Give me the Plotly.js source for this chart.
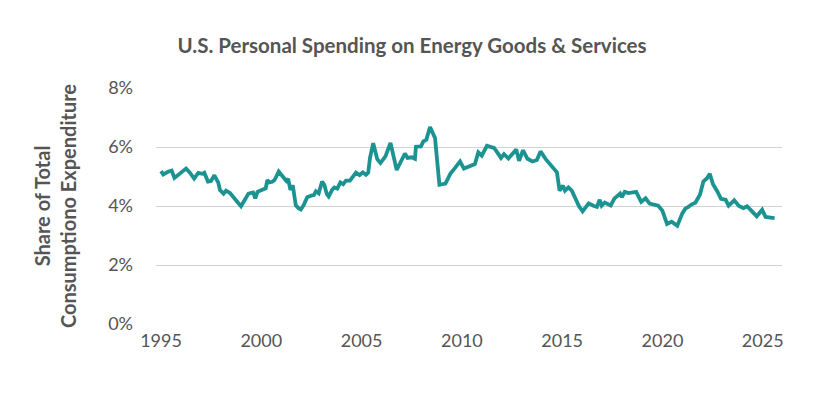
<!DOCTYPE html>
<html>
<head>
<meta charset="utf-8">
<script src="https://cdn.plot.ly/plotly-3.0.1.min.js"></script>
<style>html,body{margin:0;padding:0;background:#fff;}#chart{width:824px;height:399px;}</style>
</head>
<body>
<div id="chart"></div>
<script>
// Decimal year of each observation
const years = [
  1995.00,1995.11,1995.35,1995.53,1995.67,1995.86,1996.25,1996.45,1996.65,1996.86,
  1997.06,1997.16,1997.24,1997.34,1997.49,1997.66,1997.86,1997.94,1998.12,1998.24,
  1998.44,1998.69,1998.85,1998.99,1999.16,1999.36,1999.59,1999.70,1999.81,2000.02,
  2000.22,2000.30,2000.40,2000.55,2000.66,2000.87,2001.08,2001.25,2001.34,2001.45,
  2001.57,2001.67,2001.72,2001.87,2001.97,2002.12,2002.29,2002.49,2002.62,2002.72,
  2002.86,2003.03,2003.14,2003.27,2003.36,2003.53,2003.64,2003.79,2003.94,2004.08,
  2004.22,2004.42,2004.60,2004.72,2004.90,2005.06,2005.22,2005.33,2005.42,2005.58,
  2005.78,2005.94,2006.19,2006.44,2006.75,2007.16,2007.29,2007.50,2007.66,2007.71,
  2007.96,2008.08,2008.23,2008.41,2008.66,2008.88,2009.18,2009.43,2009.66,2009.91,
  2010.10,2010.40,2010.65,2010.82,2010.99,2011.25,2011.60,2011.73,2011.95,2012.10,
  2012.32,2012.56,2012.71,2012.85,2013.05,2013.27,2013.52,2013.74,2013.92,2014.19,
  2014.48,2014.74,2014.87,2015.04,2015.14,2015.31,2015.48,2015.69,2015.84,2016.02,
  2016.32,2016.56,2016.73,2016.87,2016.97,2017.12,2017.29,2017.42,2017.60,2017.79,
  2017.89,2017.98,2018.12,2018.31,2018.49,2018.69,2018.94,2019.16,2019.36,2019.60,
  2019.79,2019.99,2020.11,2020.23,2020.46,2020.74,2020.99,2021.14,2021.29,2021.44,
  2021.64,2021.87,2022.04,2022.22,2022.36,2022.52,2022.73,2022.92,2023.15,2023.30,
  2023.58,2023.81,2024.04,2024.22,2024.42,2024.70,2024.97,2025.14,2025.39,2025.59
];
// Energy goods & services as % of total personal consumption expenditure
const sharePct = [
  5.18,5.07,5.16,5.20,4.95,5.06,5.27,5.12,4.93,5.12,
  5.09,5.13,4.98,4.83,4.85,5.04,4.78,4.54,4.42,4.52,
  4.44,4.26,4.10,3.99,4.22,4.42,4.46,4.26,4.48,4.53,
  4.60,4.88,4.80,4.82,4.88,5.17,4.97,4.85,4.92,4.55,
  4.70,4.33,4.02,3.92,3.88,4.04,4.30,4.35,4.37,4.50,
  4.43,4.83,4.72,4.40,4.32,4.55,4.63,4.59,4.80,4.74,
  4.86,4.86,5.00,5.13,5.05,5.14,5.06,5.13,5.63,6.13,
  5.59,5.46,5.68,6.14,5.22,5.78,5.63,5.65,5.60,6.01,
  6.02,6.19,6.25,6.68,6.31,4.72,4.76,5.10,5.29,5.51,
  5.27,5.34,5.42,5.82,5.71,6.04,5.97,5.85,5.63,5.76,
  5.61,5.80,5.92,5.53,5.89,5.60,5.51,5.56,5.85,5.58,
  5.34,5.14,4.52,4.69,4.52,4.63,4.52,4.21,3.99,3.82,
  4.09,4.01,3.97,4.21,4.01,4.12,4.08,4.02,4.25,4.34,
  4.42,4.30,4.48,4.44,4.46,4.48,4.14,4.26,4.08,4.04,
  4.01,3.85,3.65,3.39,3.47,3.33,3.75,3.91,3.97,4.05,
  4.11,4.38,4.83,4.94,5.09,4.74,4.50,4.24,4.21,4.01,
  4.19,4.00,3.93,3.99,3.85,3.65,3.87,3.63,3.61,3.59
];
const xTicks = [1995, 2000, 2005, 2010, 2015, 2020, 2025];
const xTickLabels = ["1995", "2000", "2005", "2010", "2015", "2020", "2025"];
const yTicks = [0, 2, 4, 6, 8];
const yTickLabels = ["0%", "2%", "4%", "6%", "8%"];

const textColor = "#555555";
const trace = {
  x: years,
  y: sharePct,
  type: "scatter",
  mode: "lines",
  line: {color: "#1b9491", width: 3.8},
  hoverinfo: "skip"
};
const layout = {
  width: 824, height: 399,
  paper_bgcolor: "#ffffff", plot_bgcolor: "#ffffff",
  margin: {l: 156, r: 42, t: 88, b: 75},
  showlegend: false,
  font: {family: "Lato, 'Open Sans', sans-serif", color: textColor},
  title: {
    text: "U.S. Personal Spending on Energy Goods & Services",
    font: {family: "Lato, sans-serif", size: 20.5, color: textColor, weight: 700},
    x: 412/824, xanchor: "center", xref: "container",
    y: 1 - 46/399, yanchor: "middle", yref: "container"
  },
  xaxis: {
    range: [1994.75, 2025.96],
    tickvals: xTicks, ticktext: xTickLabels,
    showgrid: false, zeroline: false, showline: false,
    ticks: "", ticklabelstandoff: 4,
    tickfont: {size: 18, color: textColor}
  },
  yaxis: {
    range: [0, 8],
    tickvals: yTicks, ticktext: yTickLabels,
    showgrid: true, gridcolor: "#d3d3d3", gridwidth: 1,
    zeroline: false, showline: false,
    ticks: "", ticklabelstandoff: 22,
    tickfont: {size: 18, color: textColor},
    title: {
      text: "Share of Total<br>Consumptiono Expenditure",
      font: {family: "Lato, sans-serif", size: 20, color: textColor, weight: 700},
      standoff: 26
    }
  }
};
Plotly.newPlot("chart", [trace], layout, {displayModeBar: false, staticPlot: true});
</script>
</body>
</html>
